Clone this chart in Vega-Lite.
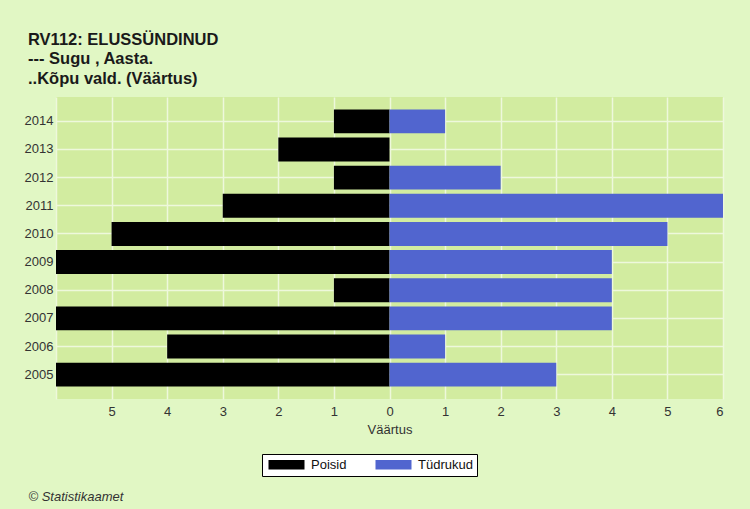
{
  "$schema": "https://vega.github.io/schema/vega-lite/v6.json",
  "autosize": "none",
  "width": 667,
  "height": 302,
  "padding": {"left": 56, "top": 97, "right": 27, "bottom": 110},
  "background": "#e1f7c4",
  "title": {
    "text": ["RV112: ELUSSÜNDINUD", "--- Sugu , Aasta.", "..Kõpu vald. (Väärtus)"],
    "anchor": "start",
    "frame": "group",
    "dx": -28,
    "offset": 10,
    "font": "Liberation Sans",
    "fontSize": 16.5,
    "fontWeight": "bold",
    "lineHeight": 19.5,
    "color": "#1a1a1a"
  },
  "data": {
    "values": [
      {"Aasta": "2014", "Sugu": "Poisid", "Väärtus": -1},
      {"Aasta": "2014", "Sugu": "Tüdrukud", "Väärtus": 1},
      {"Aasta": "2013", "Sugu": "Poisid", "Väärtus": -2},
      {"Aasta": "2013", "Sugu": "Tüdrukud", "Väärtus": 0},
      {"Aasta": "2012", "Sugu": "Poisid", "Väärtus": -1},
      {"Aasta": "2012", "Sugu": "Tüdrukud", "Väärtus": 2},
      {"Aasta": "2011", "Sugu": "Poisid", "Väärtus": -3},
      {"Aasta": "2011", "Sugu": "Tüdrukud", "Väärtus": 6},
      {"Aasta": "2010", "Sugu": "Poisid", "Väärtus": -5},
      {"Aasta": "2010", "Sugu": "Tüdrukud", "Väärtus": 5},
      {"Aasta": "2009", "Sugu": "Poisid", "Väärtus": -6},
      {"Aasta": "2009", "Sugu": "Tüdrukud", "Väärtus": 4},
      {"Aasta": "2008", "Sugu": "Poisid", "Väärtus": -1},
      {"Aasta": "2008", "Sugu": "Tüdrukud", "Väärtus": 4},
      {"Aasta": "2007", "Sugu": "Poisid", "Väärtus": -6},
      {"Aasta": "2007", "Sugu": "Tüdrukud", "Väärtus": 4},
      {"Aasta": "2006", "Sugu": "Poisid", "Väärtus": -4},
      {"Aasta": "2006", "Sugu": "Tüdrukud", "Väärtus": 1},
      {"Aasta": "2005", "Sugu": "Poisid", "Väärtus": -6},
      {"Aasta": "2005", "Sugu": "Tüdrukud", "Väärtus": 3}
    ]
  },
  "layer": [
    {
      "mark": {"type": "bar"},
      "encoding": {
        "y": {
          "field": "Aasta",
          "type": "ordinal",
          "sort": "descending",
          "scale": {"paddingInner": 0.15, "paddingOuter": 0.44},
          "axis": {
            "title": null,
            "domain": false,
            "ticks": false,
            "labelPadding": 3,
            "labelFont": "Liberation Sans",
            "labelFontSize": 13,
            "labelColor": "#333333",
            "grid": true,
            "bandPosition": 0.5,
            "gridColor": "#eef8dc",
            "gridWidth": 1.5
          }
        },
        "x": {
          "field": "Väärtus",
          "type": "quantitative",
          "scale": {"domain": [-6, 6], "nice": false},
          "axis": {
            "values": [-6, -5, -4, -3, -2, -1, 0, 1, 2, 3, 4, 5, 6],
            "labelExpr": "datum.value == -6 ? '' : abs(datum.value)",
            "domain": false,
            "ticks": false,
            "labelPadding": 6,
            "labelFont": "Liberation Sans",
            "labelFontSize": 13,
            "labelColor": "#333333",
            "grid": true,
            "gridColor": "#eef8dc",
            "gridWidth": 1.5,
            "title": "Väärtus",
            "titleFont": "Liberation Sans",
            "titleFontSize": 13,
            "titleFontWeight": "normal",
            "titleColor": "#333333",
            "titlePadding": 5
          }
        },
        "color": {
          "field": "Sugu",
          "type": "nominal",
          "scale": {"domain": ["Poisid", "Tüdrukud"], "range": ["#000000", "#5165cf"]},
          "legend": {
            "title": null,
            "orient": "none",
            "legendX": 206,
            "legendY": 357,
            "direction": "horizontal",
            "fillColor": "#ffffff",
            "strokeColor": "#000000",
            "padding": 4,
            "symbolType": "M-0.667,-0.8H5.333V0.8H-0.667Z",
            "symbolSize": 144,
            "symbolStrokeWidth": 0,
            "symbolOpacity": 1,
            "labelFont": "Liberation Sans",
            "labelFontSize": 13,
            "labelColor": "#111111",
            "labelOffset": 32,
            "columnPadding": 26,
            "labelExpr": "datum.label == 'Tüdrukud' ? datum.label + '\u00a0\u00a0\u00a0' : datum.label"
          }
        }
      }
    },
    {
      "mark": {"type": "point", "opacity": 0},
      "encoding": {
        "x": {
          "field": "Väärtus",
          "type": "quantitative",
          "axis": {
            "orient": "bottom",
            "labels": false,
            "ticks": false,
            "domain": false,
            "grid": false,
            "title": "© Statistikaamet",
            "titleX": -28,
            "titleY": 101,
            "titleAlign": "left",
            "titleBaseline": "alphabetic",
            "titleFont": "Liberation Sans",
            "titleFontSize": 13,
            "titleFontStyle": "italic",
            "titleFontWeight": "normal",
            "titleColor": "#333333"
          }
        },
        "y": {"field": "Aasta", "type": "ordinal", "sort": "descending"}
      }
    }
  ],
  "resolve": {"axis": {"x": "independent", "y": "shared"}},
  "config": {
    "view": {"fill": "#d2eca0", "stroke": null}
  }
}
